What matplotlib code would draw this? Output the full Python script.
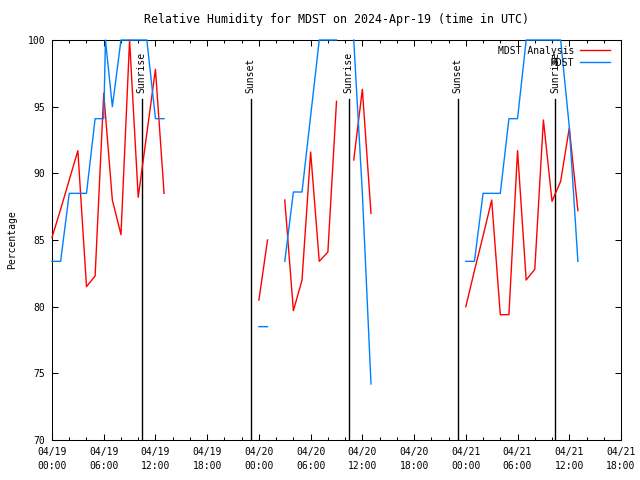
import matplotlib
matplotlib.use("Agg")
import matplotlib.pyplot as plt
import numpy as np
from matplotlib.ticker import FixedLocator, MultipleLocator

nan = np.nan

# --- data (hours since 2024-04-19 00:00 UTC) ---
analysis_hours = list(range(0, 62))
analysis_values = [
    85.2, 87.3, 89.5, 91.7, 81.5, 82.3, 96.0, 88.0, 85.4, 100.0, 88.2, 93.0, 97.8, 88.5,
    nan, nan, nan, nan, nan, nan, nan, nan, nan, nan,
    80.5, 85.0, nan, 88.0, 79.7, 82.0, 91.6, 83.4, 84.1, 95.4, nan, 91.0, 96.3, 87.0,
    nan, nan, nan, nan, nan, nan, nan, nan, nan, nan,
    80.0, 82.7, 85.3, 88.0, 79.4, 79.4, 91.7, 82.0, 82.8, 94.0, 87.9, 89.4, 93.4, 87.2,
]

obs_hours = [0, 1, 2, 3, 4, 5, 6, 6.2, 7, 8, 9, 10, 11, 12, 13, 18,
             24, 25, 26, 27, 28, 29, 30, 31, 32, 33, 34, 35, 36, 37, 42,
             48, 49, 50, 51, 52, 53, 54, 55, 56, 57, 58, 59, 60, 61]
obs_values = [83.4, 83.4, 88.5, 88.5, 88.5, 94.1, 94.1, 100.0, 95.0, 100.0, 100.0, 100.0, 100.0, 94.1, 94.1, nan,
              78.5, 78.5, nan, 83.4, 88.6, 88.6, 94.3, 100.0, 100.0, 100.0, nan, 100.0, 88.5, 74.2, nan,
              83.4, 83.4, 88.5, 88.5, 88.5, 94.1, 94.1, 100.0, 100.0, 100.0, 100.0, 100.0, 93.5, 83.4]

sun_hours = [10.42, 23.05, 34.40, 47.05, 58.37]
sun_labels = ["Sunrise", "Sunset", "Sunrise", "Sunset", "Sunrise"]

tick_hours = list(range(0, 67, 6))
tick_labels = ["04/19\n00:00", "04/19\n06:00", "04/19\n12:00", "04/19\n18:00",
               "04/20\n00:00", "04/20\n06:00", "04/20\n12:00", "04/20\n18:00",
               "04/21\n00:00", "04/21\n06:00", "04/21\n12:00", "04/21\n18:00"]

plt.rcParams["font.family"] = "DejaVu Sans Mono"
plt.rcParams["font.size"] = 7

fig = plt.figure(figsize=(6.4, 4.8), dpi=100)
ax = fig.add_axes([52 / 640, 40 / 480, 569 / 640, 400 / 480])

# lines drawn over the frame, like gnuplot does
ax.plot(analysis_hours, analysis_values, color="#ff0000", lw=1,
        label="MDST Analysis", zorder=3, clip_on=False)
ax.plot(obs_hours, obs_values, color="#0080ff", lw=1,
        label="MDST", zorder=3, clip_on=False)

# sunrise / sunset markers
for h, lab in zip(sun_hours, sun_labels):
    ax.plot([h, h], [70, 95.55], color="black", lw=1)
    ax.text(h, 96.0, lab, rotation=90, ha="center", va="bottom")

ax.set_xlim(0, 66)
ax.set_ylim(70, 100)
ax.xaxis.set_major_locator(FixedLocator(tick_hours))
ax.set_xticklabels(tick_labels)
for t in ax.get_xticklabels():
    t.set_linespacing(1.5)
ax.xaxis.set_minor_locator(MultipleLocator(2))
ax.yaxis.set_major_locator(MultipleLocator(5))

ax.tick_params(which="both", direction="in", top=True, right=True, width=0.75)
ax.tick_params(which="major", length=4)
ax.tick_params(which="minor", length=2)
ax.tick_params(axis="x", pad=5)
ax.tick_params(axis="y", pad=5)
for s in ax.spines.values():
    s.set_linewidth(0.75)

ax.set_title("Relative Humidity for MDST on 2024-Apr-19 (time in UTC)", pad=12.5)
ax.set_ylabel("Percentage")
ax.yaxis.set_label_coords(-0.062, 0.5)

ax.legend(loc="upper right", bbox_to_anchor=(0.9895, 0.998), frameon=False,
          markerfirst=False, handlelength=3.1, handletextpad=0.6,
          labelspacing=0.2, borderaxespad=0.2, borderpad=0.3)

fig.savefig("out.png", dpi=100)
